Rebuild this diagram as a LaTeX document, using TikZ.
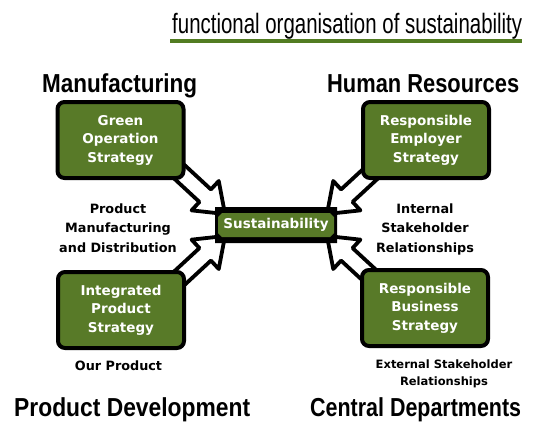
\documentclass[tikz,border=0pt]{standalone}
\usepackage{fontspec}
\setmainfont{Liberation Sans}
\newfontfamily\labelfont{DejaVu Sans}
\usetikzlibrary{calc,shapes.misc}

\definecolor{boxgreen}{RGB}{88,122,40}
\definecolor{bargreen}{RGB}{82,124,34}

% horizontally squeezed heading text of a given width
\newcommand{\narrowtext}[3]{\resizebox{#1}{\height}{\fontsize{#2}{#2}\selectfont #3}}

\newcommand{\arrshaft}{8.5pt}
\newcommand{\arrhead}{20pt}
\newcommand{\arrlen}{27pt}

\tikzset{
  heading/.style={inner sep=0pt, anchor=base west},
  strategy/.style={draw=black, line width=4pt, fill=boxgreen, rounded corners=7pt,
    minimum width=126pt, minimum height=76pt, text=white, align=center, inner sep=0pt,
    font=\labelfont\bfseries\fontsize{13.5}{18.5}\selectfont},
  caption/.style={inner sep=0pt, align=center,
    font=\labelfont\bfseries\fontsize{12.8}{19.5}\selectfont},
  blockarrow/.style={draw=black, line width=3.8pt, fill=white, line join=round,
    to path={
      ($(\tikztostart)!\arrshaft!90:(\tikztotarget)$)
      -- ($(\tikztotarget)!\arrlen!(\tikztostart)!\arrshaft!90:(\tikztotarget)$)
      -- ($(\tikztotarget)!\arrlen!(\tikztostart)!\arrhead!90:(\tikztotarget)$)
      -- (\tikztotarget)
      -- ($(\tikztotarget)!\arrlen!(\tikztostart)!\arrhead!-90:(\tikztotarget)$)
      -- ($(\tikztotarget)!\arrlen!(\tikztostart)!\arrshaft!-90:(\tikztotarget)$)
      -- ($(\tikztostart)!\arrshaft!-90:(\tikztotarget)$)
      -- cycle}}
}

\begin{document}
\begin{tikzpicture}[x=1pt,y=-1pt]
\useasboundingbox (0,0) rectangle (533,426);

% title with its green rule
\node[heading] (title) at (172,33)
  {\narrowtext{350pt}{28}{functional organisation of sustainability}};
\fill[bargreen] (170,39) rectangle (522,43);

% department headings
\node[heading] (manu) at (42,92) {\narrowtext{155pt}{26}{\bfseries Manufacturing}};
\node[heading] (hr) at (327,92) {\narrowtext{192pt}{26}{\bfseries Human Resources}};
\node[heading] (pd) at (14,416) {\narrowtext{236pt}{26}{\bfseries Product Development}};
\node[heading] (cd) at (310,416) {\narrowtext{211pt}{26}{\bfseries Central Departments}};

% block arrows pointing into the centre
\coordinate (tlS) at (172,165); \coordinate (tlT) at (225,214);
\coordinate (blS) at (172,285); \coordinate (blT) at (225,236);
\coordinate (trS) at (380,165); \coordinate (trT) at (327,214);
\coordinate (brS) at (380,285); \coordinate (brT) at (327,236);
\draw[blockarrow] (tlS) to (tlT);
\draw[blockarrow] (blS) to (blT);
\draw[blockarrow] (trS) to (trT);
\draw[blockarrow] (brS) to (brT);

% strategy boxes
\node[strategy] (gos) at (120.5,140) {Green\\Operation\\Strategy};
\node[strategy] (ree) at (426,140) {Responsible\\Employer\\Strategy};
\node[strategy] (ips) at (121,310) {Integrated\\Product\\Strategy};
\node[strategy] (rbs) at (425,308) {Responsible\\Business\\Strategy};

% central node
\node[chamfered rectangle, chamfered rectangle xsep=5pt, chamfered rectangle ysep=5pt,
  fill=black, minimum width=122pt, minimum height=36pt, inner sep=0pt] (susframe) at (276,225) {};
\node[chamfered rectangle, chamfered rectangle xsep=2pt, chamfered rectangle ysep=2pt,
  fill=boxgreen, minimum width=116pt, minimum height=24pt, inner sep=0pt, text=white,
  font=\labelfont\bfseries\fontsize{13.5}{13.5}\selectfont] (sus) at (276,225) {Sustainability};

% captions
\node[caption] (pmd) at (118,228) {Product\\Manufacturing\\and Distribution};
\node[caption] (isr) at (425,229) {Internal\\Stakeholder\\Relationships};
\node[caption, anchor=base] (our) at (118.5,370) {Our Product};
\node[caption, font=\labelfont\bfseries\fontsize{11.5}{17}\selectfont] (esr) at (444,374)
  {External Stakeholder\\Relationships};
\end{tikzpicture}
\end{document}
